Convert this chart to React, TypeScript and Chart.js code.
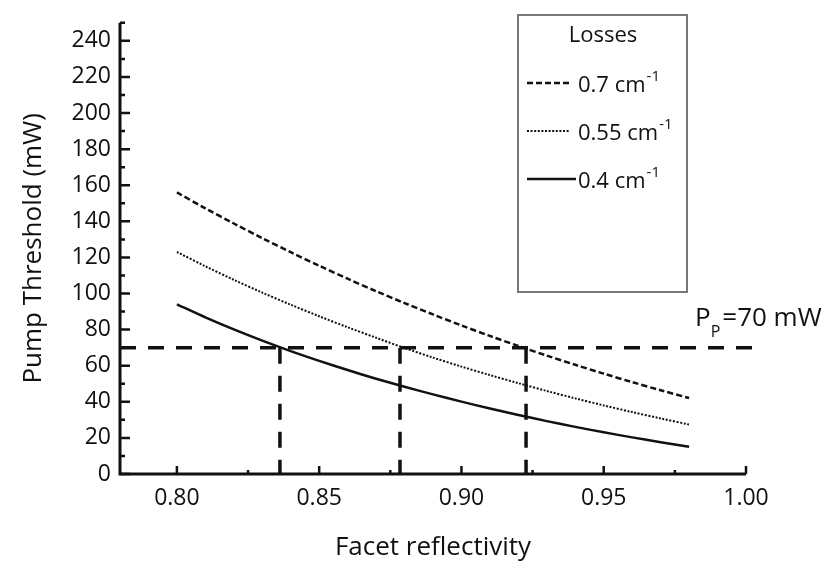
import { useEffect, useRef } from "react";
import { Chart, registerables } from "chart.js";

Chart.register(...registerables);

// ---- data ----
const reflectivity = [0.8, 0.81, 0.82, 0.83, 0.84, 0.85, 0.86, 0.87, 0.88, 0.89, 0.9, 0.91, 0.92, 0.93, 0.94, 0.95, 0.96, 0.97, 0.98];
const loss07 = [156, 147.2, 138.8, 130.7, 122.9, 115.4, 108.2, 101.3, 94.7, 88.4, 82.3, 76.5, 70.9, 65.6, 60.5, 55.6, 50.9, 46.4, 42.1];
const loss055 = [123, 115.1, 107.6, 100.5, 93.8, 87.4, 81.3, 75.5, 69.8, 64.5, 59.5, 54.8, 50.3, 46.0, 41.9, 38.0, 34.3, 30.8, 27.4];
const loss04 = [94, 86.8, 80.1, 73.9, 68.1, 62.7, 57.6, 52.8, 48.3, 44.1, 40.1, 36.3, 32.7, 29.3, 26.1, 23.1, 20.3, 17.6, 15.1];
const lossLabels = ["0.7 cm", "0.55 cm", "0.4 cm"];
const lossUnitSup = "-1";
const legendTitle = "Losses";
const pumpPower = 70;
const pumpLineEnd = 1.006;
const crossingReflectivity = [0.8362, 0.8784, 0.9227];
const xTicks = [0.8, 0.85, 0.9, 0.95, 1.0];
const xMinorTicks = [0.825, 0.875, 0.925, 0.975];
const yTicks = [0, 20, 40, 60, 80, 100, 120, 140, 160, 180, 200, 220, 240];
const yMinorTicks = [10, 30, 50, 70, 90, 110, 130, 150, 170, 190, 210, 230, 250];
const xRange = [0.78, 1.0];
const yRange = [0, 250];

const FONT = "'Open Sans', 'DejaVu Sans', sans-serif";

const axesPlugin = {
  id: "axesPlugin",
  afterDatasetsDraw(chart: any) {
    const { ctx } = chart;
    const xs = chart.scales.x;
    const ys = chart.scales.y;
    const left = xs.getPixelForValue(xRange[0]);
    const right = xs.getPixelForValue(xRange[1]);
    const bottom = ys.getPixelForValue(yRange[0]);
    const top = ys.getPixelForValue(yRange[1]);
    ctx.save();
    ctx.strokeStyle = "#111";
    ctx.lineCap = "butt";
    ctx.lineWidth = 3;
    ctx.beginPath();
    ctx.moveTo(left, top);
    ctx.lineTo(left, bottom);
    ctx.lineTo(right, bottom);
    ctx.stroke();
    ctx.lineWidth = 2.5;
    ctx.beginPath();
    yTicks.forEach((v) => {
      const p = ys.getPixelForValue(v);
      ctx.moveTo(left, p);
      ctx.lineTo(left + 10, p);
    });
    yMinorTicks.forEach((v) => {
      const p = ys.getPixelForValue(v);
      ctx.moveTo(left, p);
      ctx.lineTo(left + 5, p);
    });
    xTicks.forEach((v) => {
      const p = xs.getPixelForValue(v);
      ctx.moveTo(p, bottom);
      ctx.lineTo(p, bottom - 8);
    });
    xMinorTicks.forEach((v) => {
      const p = xs.getPixelForValue(v);
      ctx.moveTo(p, bottom);
      ctx.lineTo(p, bottom - 4);
    });
    ctx.stroke();
    ctx.restore();
  },
  afterDraw(chart: any) {
    const { ctx } = chart;
    const area = chart.chartArea;
    const xs = chart.scales.x;
    const ys = chart.scales.y;
    ctx.save();
    // legend box
    const bx = area.left + 398;
    const by = 15;
    const bw = 169;
    const bh = 277;
    ctx.strokeStyle = "#777";
    ctx.lineWidth = 2;
    ctx.strokeRect(bx, by, bw, bh);
    ctx.fillStyle = "#111";
    ctx.textBaseline = "alphabetic";
    ctx.textAlign = "center";
    ctx.font = `22px ${FONT}`;
    ctx.fillText(legendTitle, bx + 85, 42);
    ctx.textAlign = "left";
    const ds = chart.data.datasets;
    for (let i = 0; i < 3; i++) {
      const d = ds[i];
      const base = 92 + i * 48;
      const ly = base - 9;
      ctx.save();
      ctx.strokeStyle = d.borderColor;
      ctx.lineWidth = d.borderWidth;
      ctx.setLineDash(d.borderDash || []);
      ctx.beginPath();
      ctx.moveTo(bx + 9, ly);
      ctx.lineTo(bx + (i === 2 ? 58 : 51), ly);
      ctx.stroke();
      ctx.restore();
      ctx.font = `22px ${FONT}`;
      const tx = bx + 60;
      ctx.fillText(lossLabels[i], tx, base);
      const w = ctx.measureText(lossLabels[i]).width;
      ctx.font = `15px ${FONT}`;
      ctx.fillText(lossUnitSup, tx + w + 1, base - 11);
    }
    // P_P = 70 mW label
    const lx = xs.getPixelForValue(xRange[1]) - 51;
    const lyb = ys.getPixelForValue(pumpPower) - 22;
    ctx.font = `26px ${FONT}`;
    ctx.fillText("P", lx, lyb);
    let cx = lx + ctx.measureText("P").width;
    ctx.font = `16px ${FONT}`;
    ctx.fillText("P", cx, lyb + 11);
    cx += ctx.measureText("P").width + 2;
    ctx.font = `26px ${FONT}`;
    ctx.fillText("=70 mW", cx, lyb);
    ctx.restore();
  },
};

export default function App() {
  const ref = useRef<HTMLCanvasElement | null>(null);
  useEffect(() => {
    if (!ref.current) return;
    const mk = (ys: number[]) => reflectivity.map((x, i) => ({ x, y: ys[i] }));
    const guide = {
      borderColor: "#111",
      borderWidth: 3.5,
      borderDash: [16, 12],
      pointRadius: 0,
      fill: false,
      clip: false as any,
    };
    const chart = new Chart(ref.current, {
      type: "line",
      data: {
        datasets: [
          { label: lossLabels[0], data: mk(loss07), borderColor: "#111", borderWidth: 2.5, borderDash: [6, 3], pointRadius: 0, tension: 0.3 },
          { label: lossLabels[1], data: mk(loss055), borderColor: "#111", borderWidth: 2, borderDash: [2, 1.6], pointRadius: 0, tension: 0.3 },
          { label: lossLabels[2], data: mk(loss04), borderColor: "#111", borderWidth: 2.5, pointRadius: 0, tension: 0.3 },
          { label: "pump", data: [{ x: xRange[0], y: pumpPower }, { x: pumpLineEnd, y: pumpPower }], ...guide },
          ...crossingReflectivity.map((r) => ({
            label: "cross",
            data: [{ x: r, y: pumpPower }, { x: r, y: 0 }],
            ...guide,
          })),
        ] as any,
      },
      options: {
        animation: false,
        responsive: false,
        layout: { padding: { left: 0, top: 12, right: 81, bottom: 0 } },
        plugins: { legend: { display: false }, tooltip: { enabled: false } },
        scales: {
          x: {
            type: "linear",
            min: xRange[0],
            max: xRange[1],
            grid: { display: false, drawTicks: false },
            border: { display: false },
            afterBuildTicks: (s: any) => {
              s.ticks = xTicks.map((v) => ({ value: v }));
            },
            afterFit: (s: any) => {
              s.height = 91;
            },
            ticks: {
              padding: 11,
              color: "#111",
              font: { family: FONT, size: 23 },
              callback: (v: any) => Number(v).toFixed(2),
              maxRotation: 0,
            },
            title: {
              display: true,
              text: "Facet reflectivity",
              color: "#111",
              font: { family: FONT, size: 26 },
              padding: { top: 0, bottom: 2 },
            },
          },
          y: {
            type: "linear",
            min: yRange[0],
            max: yRange[1],
            grid: { display: false, drawTicks: false },
            border: { display: false },
            afterBuildTicks: (s: any) => {
              s.ticks = yTicks.map((v) => ({ value: v }));
            },
            afterFit: (s: any) => {
              s.width = 120;
            },
            ticks: {
              padding: 9,
              color: "#111",
              font: { family: FONT, size: 23 },
            },
            title: {
              display: true,
              text: "Pump Threshold (mW)",
              color: "#111",
              font: { family: FONT, size: 26 },
              padding: { top: 18, bottom: 0 },
            },
          },
        },
      },
      plugins: [axesPlugin],
    });
    return () => chart.destroy();
  }, []);
  return (
    <div style={{ position: "absolute", left: 0, top: 0, width: 827, height: 565, background: "#fff" }}>
      <canvas ref={ref} width={827} height={565} />
    </div>
  );
}
